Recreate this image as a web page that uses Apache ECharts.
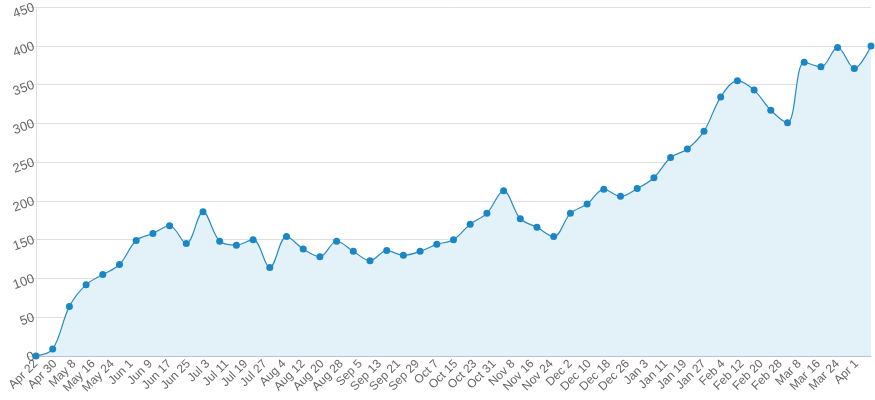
<!DOCTYPE html>
<html>
<head>
<meta charset="utf-8">
<script src="https://cdn.jsdelivr.net/npm/echarts@6/dist/echarts.min.js"></script>
<style>html,body{margin:0;padding:0;background:#fff}#c{width:875px;height:400px}</style>
</head>
<body>
<div id="c"></div>
<script>
// Tick labels every 8 days starting Apr 22
const tickLabels = ["Apr 22","Apr 30","May 8","May 16","May 24","Jun 1","Jun 9","Jun 17","Jun 25","Jul 3","Jul 11","Jul 19","Jul 27","Aug 4","Aug 12","Aug 20","Aug 28","Sep 5","Sep 13","Sep 21","Sep 29","Oct 7","Oct 15","Oct 23","Oct 31","Nov 8","Nov 16","Nov 24","Dec 2","Dec 10","Dec 18","Dec 26","Jan 3","Jan 11","Jan 19","Jan 27","Feb 4","Feb 12","Feb 20","Feb 28","Mar 8","Mar 16","Mar 24","Apr 1"];
// Weekly values (one per week, starting Apr 22)
const weeklyValues = [0,9,64,92,105,118,149,158,168,145,186,148,143,150,114,154,138,128,148,135,123,136,130,135,144,150,170,184,213,177,166,154,184,196,215,206,216,230,256,267,290,334,355,343,317,301,379,373,398,371,400];
const daysPerWeek = 7;
const yTicks = {min:0, max:450, interval:50};

const data = weeklyValues.map((v,i)=>[i*daysPerWeek, v]);
const chart = echarts.init(document.getElementById('c'), null, {renderer:'canvas'});
chart.setOption({
  animation:false,
  grid:{left:36, right:4, top:7, bottom:44},
  xAxis:{
    type:'value', min:0, max:(weeklyValues.length-1)*daysPerWeek, interval:8,
    axisLine:{show:true, lineStyle:{color:'#c0c0c8', width:1}},
    axisTick:{show:false},
    splitLine:{show:false},
    axisLabel:{
      rotate:45, margin:6, color:'#666', fontSize:12, fontFamily:'Liberation Sans, Arial, sans-serif',
      showMaxLabel:false, hideOverlap:false,
      formatter:function(v){ const k=v/8; return Number.isInteger(k) && tickLabels[k] ? tickLabels[k] : ''; }
    }
  },
  yAxis:{
    type:'value', min:yTicks.min, max:yTicks.max, interval:yTicks.interval,
    axisLine:{show:true, lineStyle:{color:'#e0e0e0'}},
    axisTick:{show:true, length:9, lineStyle:{color:'#e0e0e0'}},
    splitLine:{show:true, lineStyle:{color:'#e0e0e0'}},
    axisLabel:{rotate:20, margin:2, color:'#666', fontSize:13, fontFamily:'Liberation Sans, Arial, sans-serif'}
  },
  series:[{
    type:'line', data:data, smooth:0.35,
    symbol:'circle', symbolSize:7,
    lineStyle:{color:'#2a8cc0', width:1.2},
    itemStyle:{color:'#1a86c4'},
    areaStyle:{color:'#e3f1f9', opacity:1}
  }]
});
</script>
</body>
</html>
